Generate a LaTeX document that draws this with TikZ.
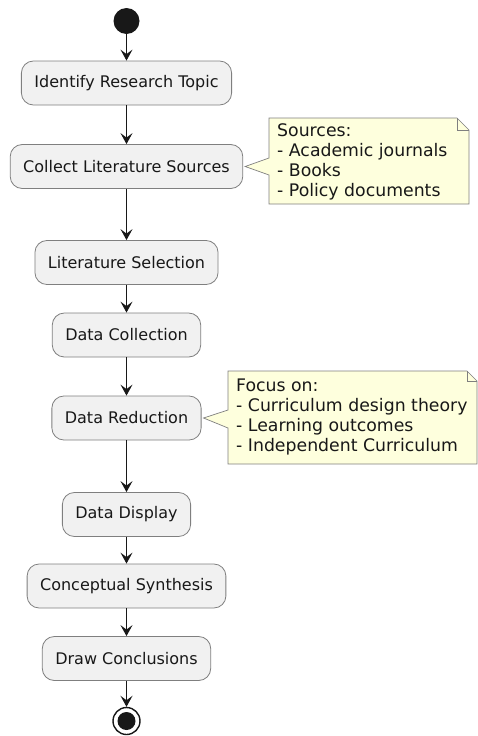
\documentclass[tikz,border=0pt]{standalone}
\usepackage{fontspec}
\setmainfont{DejaVu Sans}
\usetikzlibrary{arrows.meta}
\definecolor{boxfill}{HTML}{F1F1F1}
\definecolor{notefill}{HTML}{FEFFDD}
\definecolor{edge}{HTML}{181818}
\definecolor{rim}{HTML}{7F7F7F}
\tikzset{
  act/.style={draw=rim, line width=0.8pt, fill=boxfill, rounded corners=12pt,
    minimum height=44pt, inner xsep=13pt, inner ysep=0pt,
    font=\fontsize{16}{19}\selectfont, text=edge},
  flow/.style={draw=edge, line width=1.1pt,
    -{Stealth[length=11pt,width=12pt,inset=4.5pt]}},
  notebody/.style={draw=rim, line width=0.7pt, fill=notefill},
  notetext/.style={anchor=west, align=left, inner sep=0pt,
    font=\fontsize{17.3}{20}\selectfont, text=edge},
}
\begin{document}
\begin{tikzpicture}[x=1pt,y=-1pt]
\useasboundingbox (0,0) rectangle (478,736);

% start and end markers
\node[circle, fill=edge, minimum size=26pt, inner sep=0pt] (start) at (126.5,21) {};
\node[circle, draw=edge, line width=1.4pt, fill=white, minimum size=27pt, inner sep=0pt] (stop) at (126.5,721) {};
\node[circle, fill=edge, minimum size=18pt, inner sep=0pt] at (stop) {};

% activities, all on one vertical axis
\node[act] (identify) at (126.5,83)    {Identify Research Topic};
\node[act] (collect)  at (126.5,166.5) {Collect Literature Sources};
\node[act] (select)   at (126.5,262.5) {Literature Selection};
\node[act] (gather)   at (126.5,335)   {Data Collection};
\node[act] (reduce)   at (126.5,418)   {Data Reduction};
\node[act] (display)  at (126.5,514.5) {Data Display};
\node[act] (synth)    at (126.5,586)   {Conceptual Synthesis};
\node[act] (conclude) at (126.5,658.5) {Draw Conclusions};

% flow
\draw[flow] (start) -- (identify);
\draw[flow] (identify) -- (collect);
\draw[flow] (collect) -- (select);
\draw[flow] (select) -- (gather);
\draw[flow] (gather) -- (reduce);
\draw[flow] (reduce) -- (display);
\draw[flow] (display) -- (synth);
\draw[flow] (synth) -- (conclude);
\draw[flow] (conclude) -- (stop);

% note on sources
\draw[notebody] (269,118) -- (457,118) -- (469,130) -- (469,204) -- (269,204)
  -- (269,175) -- ([xshift=2pt]collect.east) -- (269,158) -- cycle;
\draw[rim, line width=0.7pt] (457,118) -- (457,130) -- (469,130);
\node[notetext] (srcnote) at (277,162) {Sources:\\- Academic journals\\- Books\\- Policy documents};

% note on focus
\draw[notebody] (228,371) -- (467,371) -- (477,381) -- (477,464) -- (228,464)
  -- (228,428) -- ([xshift=2pt]reduce.east) -- (228,410) -- cycle;
\draw[rim, line width=0.7pt] (467,371) -- (467,381) -- (477,381);
\node[notetext] (focusnote) at (236,417) {Focus on:\\- Curriculum design theory\\- Learning outcomes\\- Independent Curriculum};
\end{tikzpicture}
\end{document}
